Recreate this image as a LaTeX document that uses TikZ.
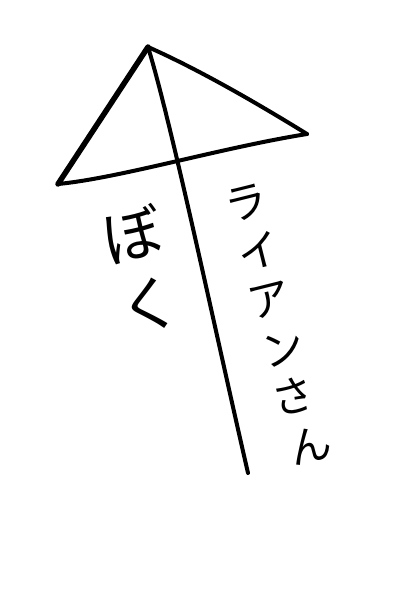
\documentclass[tikz,border=0pt]{standalone}
\usepackage{fontspec}
\newfontfamily\jpfont{Noto Sans CJK JP}
\begin{document}
\begin{tikzpicture}[x=1pt,y=-1pt,
  pen/.style={line width=4pt,line cap=round,line join=round,black},
  thickpen/.style={line width=5.5pt,line cap=round,line join=round,black},
  bigch/.style={inner sep=0pt,rotate=13,font=\jpfont\fontsize{60}{60}\selectfont},
  smallch/.style={inner sep=0pt,rotate=14,font=\jpfont\fontsize{42}{42}\selectfont}]
\useasboundingbox (0,0) rectangle (400,590);
\coordinate (apex) at (148,47);
\coordinate (rc) at (307,134);
\coordinate (lc) at (58,184);
\coordinate (hend) at (248,473);
\draw[thickpen] (lc) -- (apex);
\draw[pen] (apex) .. controls (200,70) and (260,105) .. (rc);
\draw[pen] (lc) .. controls (120,178) and (220,148) .. (rc);
\draw[pen] (apex) .. controls (172,125) and (215,330) .. (hend);
\node[bigch] (bo) at (133,234) {ぼ};
\node[bigch] (ku) at (150,305) {く};
\node[smallch] (ra) at (246,203) {ラ};
\node[smallch] (i) at (259,251) {イ};
\node[smallch] (a) at (269,300) {ア};
\node[smallch] (n1) at (283,349) {ン};
\node[smallch] (sa) at (293,396) {さ};
\node[smallch] (n2) at (310,445) {ん};
\end{tikzpicture}
\end{document}
